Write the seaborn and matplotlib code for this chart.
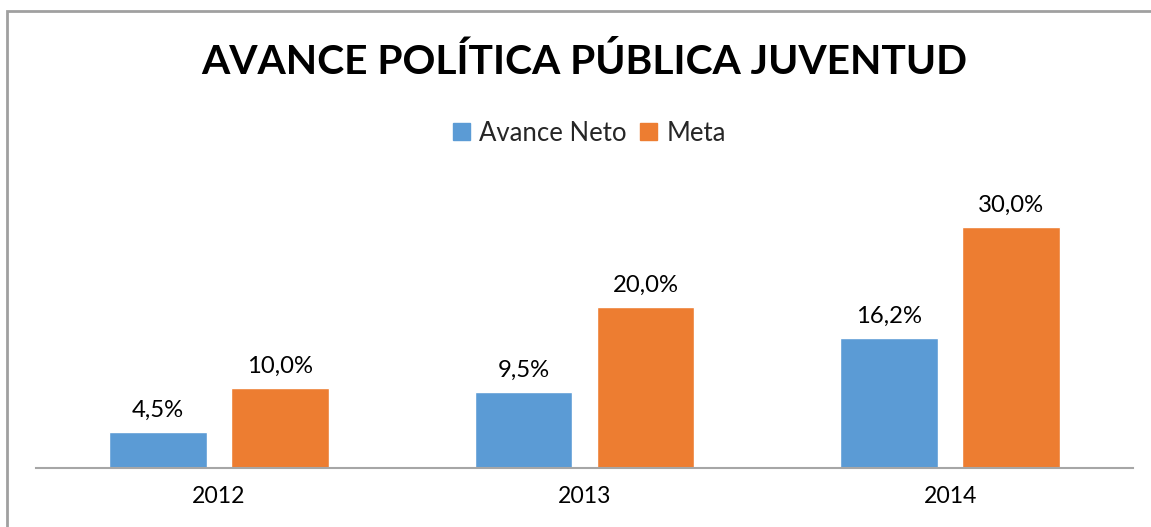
import matplotlib
matplotlib.use("Agg")
import matplotlib.pyplot as plt
import seaborn as sns
import pandas as pd
from matplotlib.patches import Rectangle

years = ["2012", "2013", "2014"]
avance_neto = [4.5, 9.5, 16.2]
meta = [10.0, 20.0, 30.0]
series_names = ["Avance Neto", "Meta"]
colors = ["#5B9BD5", "#ED7D31"]
title = "AVANCE POLÍTICA PÚBLICA JUVENTUD"

df = pd.DataFrame({
    "Año": years * 2,
    "Valor": avance_neto + meta,
    "Serie": [series_names[0]] * 3 + [series_names[1]] * 3,
})

sns.set_theme(style="white")
plt.rcParams["font.family"] = ["Lato", "DejaVu Sans"]

W, H = 1151, 527
fig = plt.figure(figsize=(W / 100, H / 100), dpi=100)
ax = fig.add_axes([36 / W, 1 - 468 / H, (1133 - 36) / W, (468 - 187) / H])

sns.barplot(data=df, x="Año", y="Valor", hue="Serie", palette=colors,
            width=0.667, gap=0.2, ax=ax, legend=False, saturation=1)

ax.set_ylim(0, 35)
ax.set_xlim(-0.5, 2.5)
ax.set_xlabel("")
ax.set_ylabel("")
ax.set_yticks([])
for s in ["top", "left", "right"]:
    ax.spines[s].set_visible(False)
ax.spines["bottom"].set_color("#A6A6A6")
ax.spines["bottom"].set_linewidth(1.5)
ax.tick_params(axis="x", length=0, pad=13, labelsize=16.6, labelcolor="black")

for cont in ax.containers:
    ax.bar_label(cont, labels=[f"{v:.1f}%".replace(".", ",") for v in cont.datavalues],
                 padding=8, fontsize=17.2, color="black")

fig.text(0.508, 1 - 62 / H, title, ha="center", va="center",
         fontsize=29.3, fontweight="bold", color="black")

handles = [Rectangle((0, 0), 1, 1, color=c) for c in colors]
fig.legend(handles, series_names, loc="center", bbox_to_anchor=(0.512, 1 - 133 / H),
           ncol=2, frameon=False, fontsize=18.5, handlelength=0.65, handleheight=0.65,
           handletextpad=0.35, columnspacing=0.55)

# outer chart frame (top and left visible)
fig.patches.append(Rectangle((7 / W, -0.1), 1.2, (1 - 11 / H) + 0.1, transform=fig.transFigure,
                             fill=False, edgecolor="#A0A0A0", linewidth=2, zorder=0))

fig.savefig("out.png", dpi=100)
